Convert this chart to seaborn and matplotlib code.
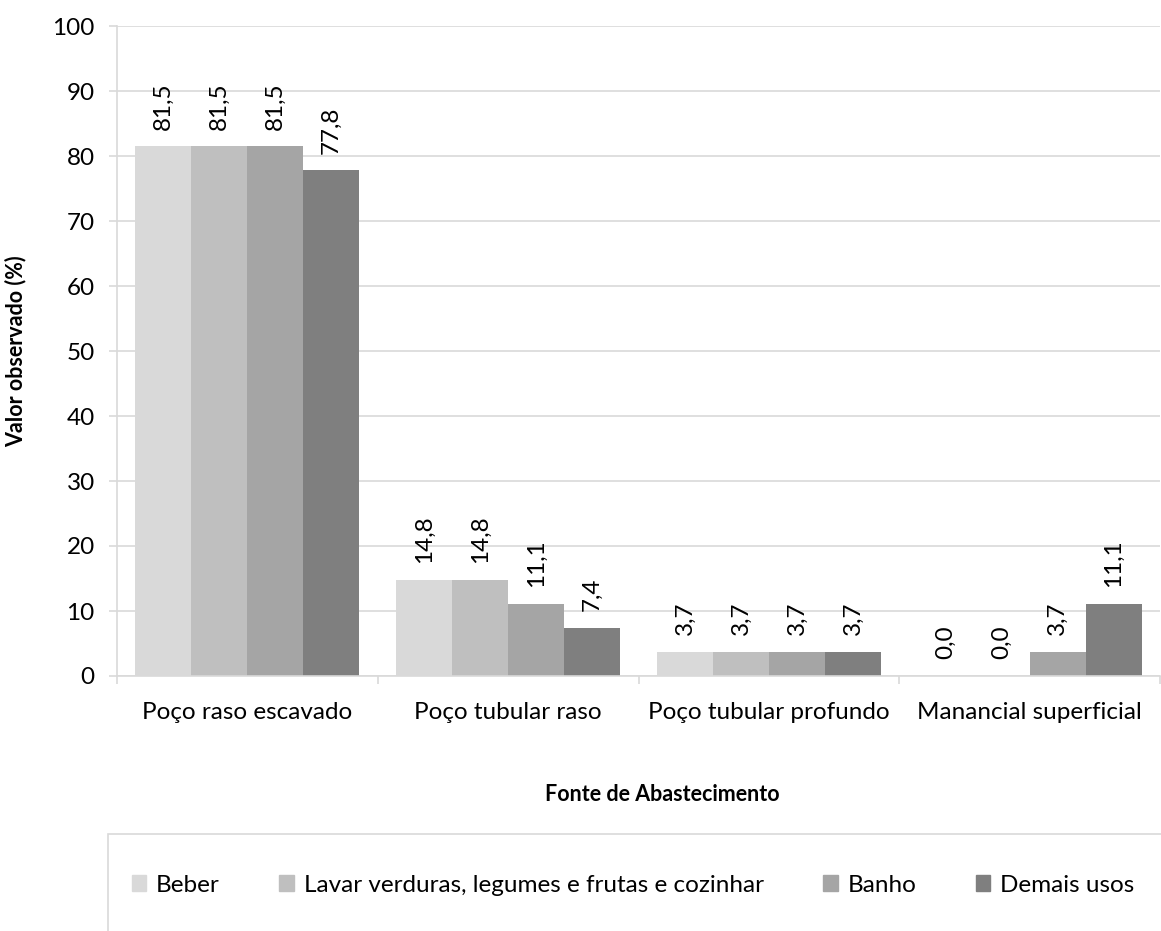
import pandas as pd
import matplotlib.pyplot as plt
import seaborn as sns
from matplotlib.patches import Rectangle

# Data
categories = ['Poço raso escavado', 'Poço tubular raso',
              'Poço tubular profundo', 'Manancial superficial']
usos = ['Beber', 'Lavar verduras, legumes e frutas e cozinhar',
        'Banho', 'Demais usos']
beber = [81.5, 14.8, 3.7, 0.0]
lavar = [81.5, 14.8, 3.7, 0.0]
banho = [81.5, 11.1, 3.7, 3.7]
demais = [77.8, 7.4, 3.7, 11.1]
cores = ['#D9D9D9', '#BFBFBF', '#A5A5A5', '#7F7F7F']

rows = []
for uso, vals in zip(usos, [beber, lavar, banho, demais]):
    for cat, v in zip(categories, vals):
        rows.append({'Fonte': cat, 'Uso': uso, 'Valor': v})
df = pd.DataFrame(rows)

sns.set_style('white')
plt.rcParams['font.family'] = ['Lato', 'DejaVu Sans']
plt.rcParams['text.color'] = 'black'
plt.rcParams['axes.labelcolor'] = 'black'
plt.rcParams['xtick.labelcolor'] = 'black'
plt.rcParams['ytick.labelcolor'] = 'black'

fs = 17.5

fig = plt.figure(figsize=(11.61, 9.31), dpi=100)
ax = fig.add_axes([117 / 1161, 1 - 676 / 931, 1043 / 1161, 650 / 931])

sns.barplot(data=df, x='Fonte', y='Valor', hue='Uso', hue_order=usos,
            order=categories, palette=cores, width=0.86, saturation=1,
            linewidth=0, ax=ax, legend=False)

# data labels
for cont, vals in zip(ax.containers, [beber, lavar, banho, demais]):
    ax.bar_label(cont, labels=[f'{v:.1f}'.replace('.', ',') for v in vals],
                 rotation=90, padding=12, fontsize=fs, color='black')

ax.set_ylim(0, 100)
ax.set_xlim(-0.5, 3.5)
ax.set_yticks(range(0, 101, 10))
ax.yaxis.grid(True, color='#D9D9D9', linewidth=1.2)
ax.set_axisbelow(True)

for s in ['top', 'right']:
    ax.spines[s].set_visible(False)
for s in ['left', 'bottom']:
    ax.spines[s].set_color('#D9D9D9')
    ax.spines[s].set_linewidth(1.2)

ax.tick_params(axis='y', which='major', length=6, width=1.2, color='#D9D9D9',
               labelsize=fs, pad=10, left=True)
ax.set_xticks([-0.5, 0.5, 1.5, 2.5, 3.5], minor=True)
ax.tick_params(axis='x', which='minor', length=6, width=1.2, color='#D9D9D9',
               bottom=True)
ax.tick_params(axis='x', which='major', length=0, labelsize=fs, pad=19)

ax.set_xlabel('Fonte de Abastecimento', fontsize=15.5, fontweight='bold')
ax.xaxis.set_label_coords(0.5225, -0.166)
ax.set_ylabel('Valor observado (%)', fontsize=15.5, fontweight='bold')
ax.yaxis.set_label_coords(-0.087, 0.5)

# legend box (cut off by the image edge)
fig.patches.append(Rectangle((108 / 1161, -0.1), 1.0, (931 - 834) / 931 + 0.1,
                             transform=fig.transFigure, fill=False,
                             edgecolor='#D9D9D9', linewidth=1.2))
handles = [Rectangle((0, 0), 1, 1, color=c) for c in cores]
fig.legend(handles, usos, loc='center', bbox_to_anchor=(633 / 1161, 1 - 885 / 931),
           ncol=4, frameon=False, fontsize=fs, handlelength=0.6,
           handleheight=0.6, handletextpad=0.4, columnspacing=2.45)

fig.savefig('out.png', dpi=100)
